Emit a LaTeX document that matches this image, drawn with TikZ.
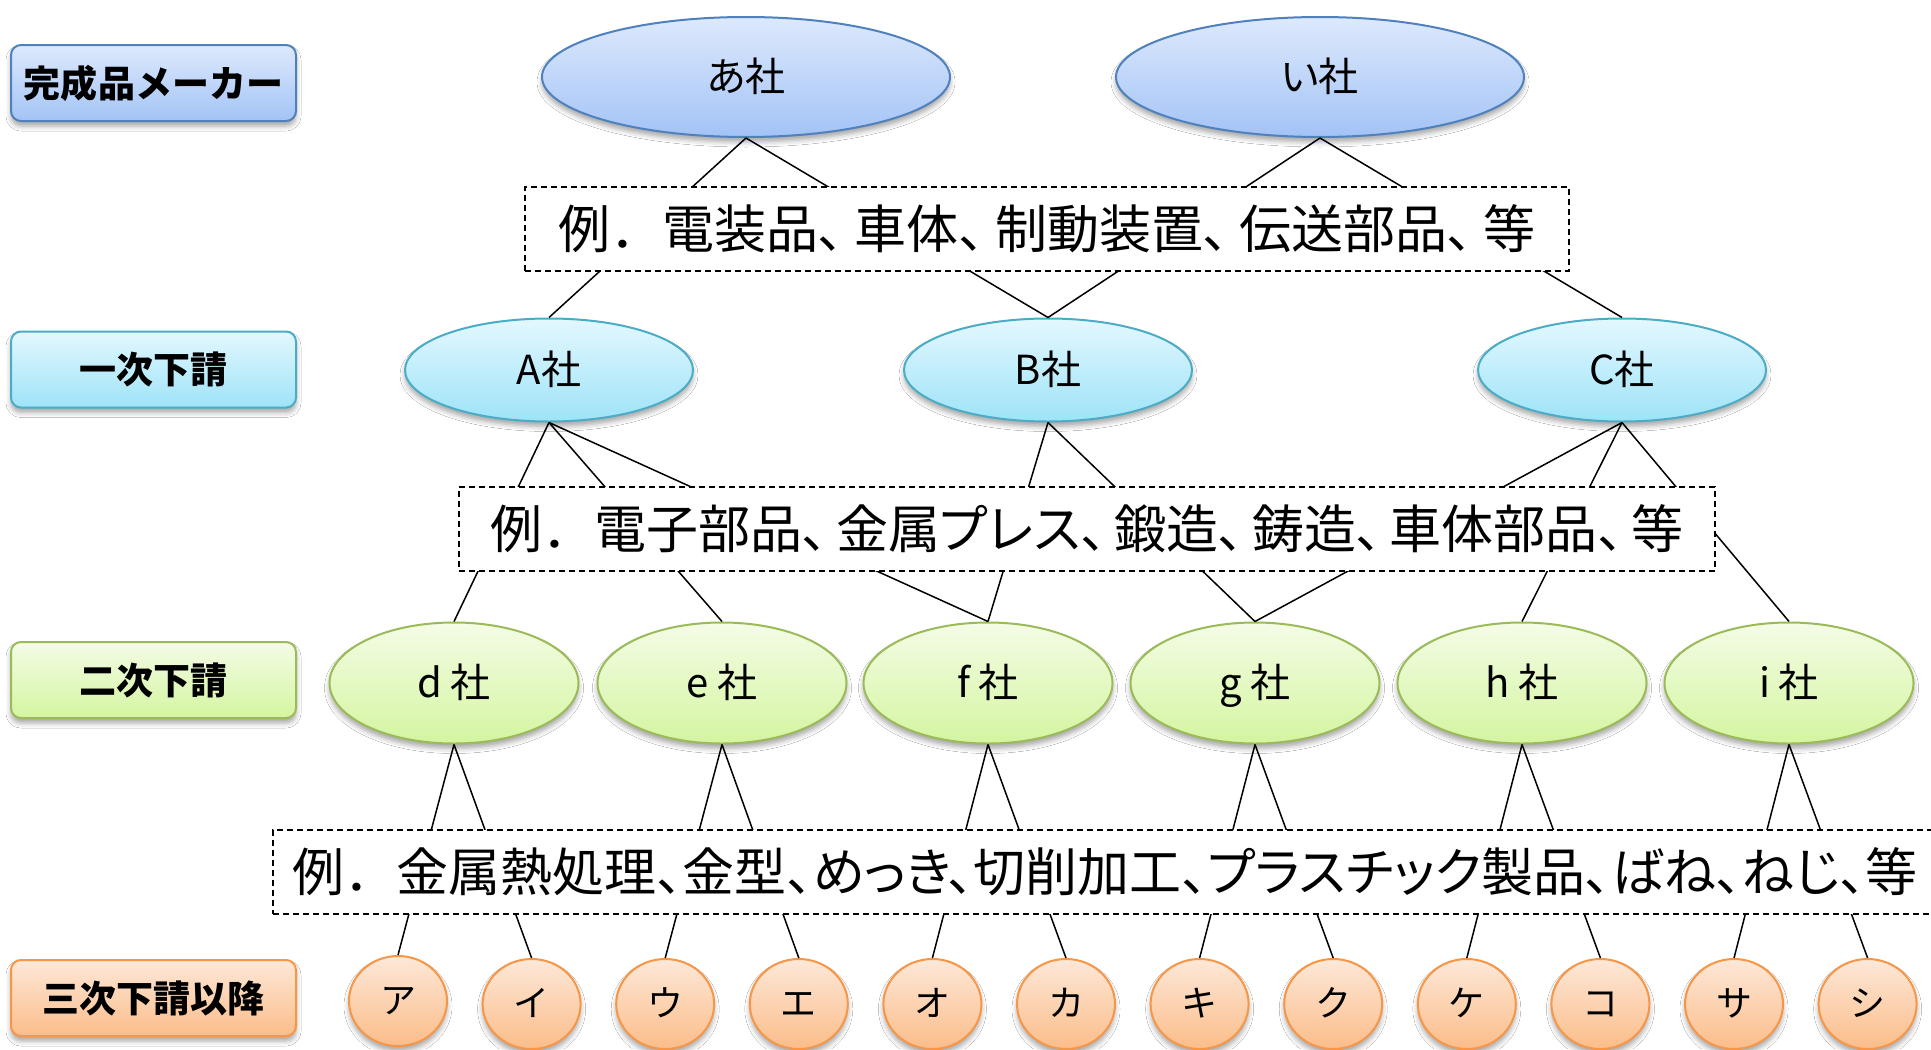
\documentclass[tikz,border=0pt]{standalone}
\usepackage{fontspec}
\setmainfont{Noto Sans CJK JP}[RawFeature=+palt]
\newfontfamily\jpn{Noto Sans CJK JP}
\usetikzlibrary{shapes.geometric,shadows.blur}
\definecolor{bluB}{HTML}{4F81BD}\definecolor{bluT}{HTML}{DDE9FC}\definecolor{bluD}{HTML}{A3C3F6}
\definecolor{cyaB}{HTML}{4BACC6}\definecolor{cyaT}{HTML}{E3F8FE}\definecolor{cyaD}{HTML}{9EE3F8}
\definecolor{grnB}{HTML}{9BBB59}\definecolor{grnT}{HTML}{F4FCE6}\definecolor{grnD}{HTML}{D4F5A0}
\definecolor{orgB}{HTML}{F79646}\definecolor{orgT}{HTML}{FDE8D8}\definecolor{orgD}{HTML}{FBBD8A}
\newcommand\tn[1][0.1em]{、\kern#1}
\tikzset{
  shd/.style={blur shadow={shadow xshift=0pt,shadow yshift=-2.5pt,shadow blur radius=2.5pt,shadow opacity=35}},
  bluefill/.style={draw=bluB,top color=bluT,bottom color=bluD},
  cyanfill/.style={draw=cyaB,top color=cyaT,bottom color=cyaD},
  greenfill/.style={draw=grnB,top color=grnT,bottom color=grnD},
  orangefill/.style={draw=orgB,top color=orgT,bottom color=orgD},
  lvbox/.style={shd,rectangle,rounded corners=5pt,minimum width=142.5pt,minimum height=38pt,
    line width=1pt,inner sep=0pt,font=\jpn\bfseries\fontsize{18.5pt}{22pt}\selectfont},
  ell/.style={shd,ellipse,inner sep=0pt,line width=1pt},
  big/.style={font=\fontsize{20pt}{24pt}\selectfont,text height=17pt,text depth=3pt},
  e1/.style={ell,bluefill,big,minimum width=204pt,minimum height=60pt},
  e2/.style={ell,cyanfill,big,minimum width=144pt,minimum height=51.5pt},
  e3/.style={ell,greenfill,big,minimum width=124.5pt,minimum height=60.5pt},
  e4/.style={ell,orangefill,minimum width=49pt,minimum height=45pt,
    font=\jpn\fontsize{18pt}{21pt}\selectfont,text height=15.3pt,text depth=2.7pt},
  conn/.style={draw=black,line width=0.75pt},
  exbox/.style={rectangle,draw=black,dash pattern=on 3pt off 2pt,line width=0.75pt,fill=white,
    inner sep=0pt,minimum height=42pt,font=\fontsize{26pt}{30pt}\selectfont}
}
\begin{document}
\begin{tikzpicture}[x=0.5pt,y=-0.5pt]
\useasboundingbox (0,0) rectangle (1931,1049);
\fill[white] (0,0) rectangle (1931,1049);
% level labels
\node[lvbox,bluefill]   (L0) at (153.5,83)    {完成品メーカー};
\node[lvbox,cyanfill]   (L1) at (153.5,369.5) {一次下請};
\node[lvbox,greenfill]  (L2) at (153.5,680)   {二次下請};
\node[lvbox,orangefill] (L3) at (153.5,998)   {三次下請以降};
% makers
\node[e1] (a1) at (746,77)  {あ社};
\node[e1] (a2) at (1320,77) {い社};
% first tier
\node[e2] (b1) at (549,370)  {A社};
\node[e2] (b2) at (1048,370) {B社};
\node[e2] (b3) at (1622,370) {C社};
% second tier
\node[e3] (c1) at (454,683)  {d 社};
\node[e3] (c2) at (722,683)  {e 社};
\node[e3] (c3) at (988,683)  {f 社};
\node[e3] (c4) at (1255,683) {g 社};
\node[e3] (c5) at (1522,683) {h 社};
\node[e3] (c6) at (1789,683) {i 社};
% third tier
\node[e4] (k1)  at (398,1001)    {ア};
\node[e4] (k2)  at (531.6,1004)  {イ};
\node[e4] (k3)  at (665.2,1004)  {ウ};
\node[e4] (k4)  at (798.8,1004)  {エ};
\node[e4] (k5)  at (932.4,1004)  {オ};
\node[e4] (k6)  at (1066,1004)   {カ};
\node[e4] (k7)  at (1199.6,1004) {キ};
\node[e4] (k8)  at (1333.2,1004) {ク};
\node[e4] (k9)  at (1466.8,1004) {ケ};
\node[e4] (k10) at (1600.4,1004) {コ};
\node[e4] (k11) at (1734,1004)   {サ};
\node[e4] (k12) at (1867.6,1004) {シ};
% connectors
\draw[conn] (a1.south) -- (b1.north);
\draw[conn] (a1.south) -- (b2.north);
\draw[conn] (a2.south) -- (b2.north);
\draw[conn] (a2.south) -- (b3.north);
\draw[conn] (b1.south) -- (c1.north);
\draw[conn] (b1.south) -- (c2.north);
\draw[conn] (b1.south) -- (c3.north);
\draw[conn] (b2.south) -- (c3.north);
\draw[conn] (b2.south) -- (c4.north);
\draw[conn] (b3.south) -- (c4.north);
\draw[conn] (b3.south) -- (c5.north);
\draw[conn] (b3.south) -- (c6.north);
\draw[conn] (c1.south) -- (k1.north);
\draw[conn] (c1.south) -- (k2.north);
\draw[conn] (c2.south) -- (k3.north);
\draw[conn] (c2.south) -- (k4.north);
\draw[conn] (c3.south) -- (k5.north);
\draw[conn] (c3.south) -- (k6.north);
\draw[conn] (c4.south) -- (k7.north);
\draw[conn] (c4.south) -- (k8.north);
\draw[conn] (c5.south) -- (k9.north);
\draw[conn] (c5.south) -- (k10.north);
\draw[conn] (c6.south) -- (k11.north);
\draw[conn] (c6.south) -- (k12.north);
% example boxes
\node[exbox,minimum width=522pt] (ex1) at (1047,229)
  {\mbox{\jpn 例．}電装品\tn[0.2em]車体\tn[0.2em]制動装置\tn[0.2em]伝送部品\tn[0.2em]等};
\node[exbox,minimum width=628pt] (ex2) at (1087,529)
  {\mbox{\jpn 例．}電子部品\tn[0.15em]金属プレス\tn[0.15em]鍛造\tn[0.15em]鋳造\tn[0.15em]車体部品\tn[0.15em]等};
\node[exbox,anchor=west,text width=824pt,inner xsep=10pt,align=left] (ex3) at (272,872)
  {\mbox{\jpn 例．}金属熱処理\tn[0em]金型\tn[0em]めっき\tn[0em]切削加工\tn[0em]プラスチック製品\tn[0em]ばね\tn[0em]ねじ\tn[0em]等};
\end{tikzpicture}
\end{document}
